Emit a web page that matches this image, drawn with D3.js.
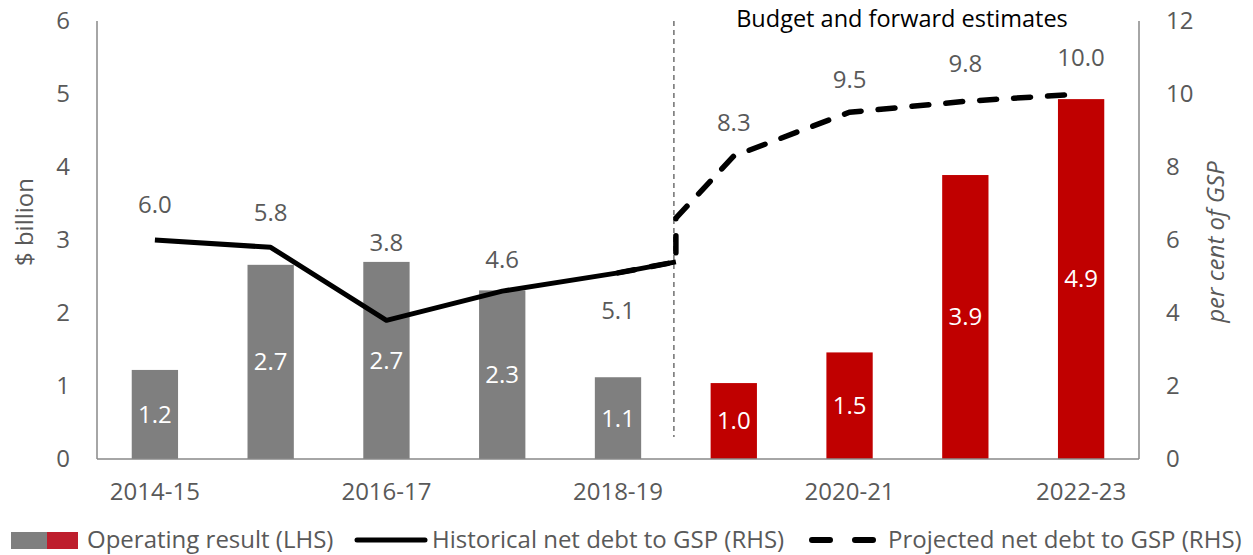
<!DOCTYPE html>
<html>
<head>
<meta charset="utf-8">
<script src="https://cdn.jsdelivr.net/npm/d3@7"></script>
<style>
  body { margin: 0; background: #fff; }
  svg text { font-family: "Open Sans", Lato, sans-serif; }
</style>
</head>
<body>
<div id="chart"></div>
<script>
// categories and values
var years = ["2014-15", "2015-16", "2016-17", "2017-18", "2018-19", "2019-20", "2020-21", "2021-22", "2022-23"];
var tickYears = ["2014-15", "2016-17", "2018-19", "2020-21", "2022-23"];
var operating = [1.22, 2.66, 2.70, 2.31, 1.12, 1.04, 1.46, 3.89, 4.93];
var budgetFlag = [0, 0, 0, 0, 0, 1, 1, 1, 1];   // 1 = budget / forward estimate
// net debt lines, x given as category index (4.5 = budget break)
var histIdx = [0, 1, 2, 3, 4, 4.5];
var histDebt = [6.0, 5.8, 3.8, 4.6, 5.1, 5.4];
var projIdx = [4, 4.5, 4.5, 5, 6, 7, 8];
var projDebt = [5.1, 5.4, 6.6, 8.3, 9.5, 9.8, 10.0];
var leftTicks = [0, 1, 2, 3, 4, 5, 6];
var rightTicks = [0, 2, 4, 6, 8, 10, 12];

function init(){
	var w = 1253, h = 555;
	var left = 97, right = 1139, top = 21, bottom = 459;
	var labelGrey = "#595959";
	var fs = 24;

	var svg = d3.select("#chart").append("svg")
		.attr("width", w)
		.attr("height", h);

	var xScale = d3.scaleBand()
		.domain(years)
		.range([left, right])
		.paddingInner(0.6)
		.paddingOuter(0.3);

	// numeric x for the lines (centre of band i)
	var xIdx = d3.scaleLinear()
		.domain([0, years.length - 1])
		.range([xScale(years[0]) + xScale.bandwidth() / 2,
		        xScale(years[years.length - 1]) + xScale.bandwidth() / 2]);

	var yLeft = d3.scaleLinear().domain([0, 6]).range([bottom, top]);
	var yRight = d3.scaleLinear().domain([0, 12]).range([bottom, top]);

	// bars
	svg.selectAll("rect.bar")
		.data(operating)
		.enter()
		.append("rect")
		.attr("class", "bar")
		.attr("x", function(d, i){ return xScale(years[i]); })
		.attr("y", function(d){ return yLeft(d); })
		.attr("width", xScale.bandwidth())
		.attr("height", function(d){ return yLeft(0) - yLeft(d); })
		.attr("fill", function(d, i){ return budgetFlag[i] ? "#c00000" : "#7f7f7f"; });

	// bar labels
	svg.selectAll("text.barlab")
		.data(operating)
		.enter()
		.append("text")
		.attr("class", "barlab")
		.text(function(d){ return d.toFixed(1); })
		.attr("x", function(d, i){ return xScale(years[i]) + xScale.bandwidth() / 2; })
		.attr("y", function(d){ return (yLeft(d) + yLeft(0)) / 2; })
		.attr("dy", "0.35em")
		.attr("text-anchor", "middle")
		.attr("font-size", fs)
		.attr("fill", "white");

	// axes lines
	var axisCol = "#888888";
	svg.append("line").attr("x1", left).attr("x2", left).attr("y1", top).attr("y2", bottom)
		.attr("stroke", axisCol).attr("stroke-width", 1.5);
	svg.append("line").attr("x1", right).attr("x2", right).attr("y1", top).attr("y2", bottom)
		.attr("stroke", axisCol).attr("stroke-width", 1.5);

	var xAxis = svg.append("g")
		.attr("transform", "translate(0," + bottom + ")")
		.call(d3.axisBottom(xScale).tickValues(tickYears).tickSize(0).tickPadding(24));
	xAxis.select(".domain").attr("stroke", axisCol).attr("stroke-width", 1.5)
		.attr("d", "M" + left + ",0H" + right);
	xAxis.selectAll("text").attr("font-size", fs).attr("fill", labelGrey)
		.style("font-family", "'Open Sans', sans-serif");

	var lAxis = svg.append("g")
		.attr("transform", "translate(" + left + ",0)")
		.call(d3.axisLeft(yLeft).tickValues(leftTicks).tickFormat(d3.format("d")).tickSize(0).tickPadding(27));
	lAxis.select(".domain").remove();
	lAxis.selectAll("text").attr("font-size", fs).attr("fill", labelGrey)
		.style("font-family", "'Open Sans', sans-serif");

	var rAxis = svg.append("g")
		.attr("transform", "translate(" + right + ",0)")
		.call(d3.axisRight(yRight).tickValues(rightTicks).tickFormat(d3.format("d")).tickSize(0).tickPadding(27));
	rAxis.select(".domain").remove();
	rAxis.selectAll("text").attr("font-size", fs).attr("fill", labelGrey)
		.style("font-family", "'Open Sans', sans-serif");

	// budget divider
	svg.append("line")
		.attr("x1", xIdx(4.5) - 2).attr("x2", xIdx(4.5) - 2)
		.attr("y1", top).attr("y2", 437)
		.attr("stroke", "#6f6f6f").attr("stroke-width", 1.5)
		.attr("stroke-dasharray", "5,4");

	svg.append("text")
		.text("Budget and forward estimates")
		.attr("x", 902).attr("y", 27)
		.attr("text-anchor", "middle")
		.attr("font-size", 23.5)
		.attr("fill", "#000");

	// lines
	var line = d3.line()
		.x(function(d){ return xIdx(d[0]); })
		.y(function(d){ return yRight(d[1]); });

	svg.append("path")
		.datum(d3.zip(projIdx, projDebt))
		.attr("d", line)
		.attr("fill", "none")
		.attr("stroke", "#000")
		.attr("stroke-width", 5.5)
		.attr("stroke-linecap", "round")
		.attr("stroke-dasharray", "17,17");

	svg.append("path")
		.datum(d3.zip(histIdx, histDebt))
		.attr("d", line)
		.attr("fill", "none")
		.attr("stroke", "#000")
		.attr("stroke-width", 5)
		.attr("stroke-linejoin", "round");

	// line labels (vertical offsets from the points)
	var histOffset = [-35, -35, -78, -32, 38];
	var projOffset = [-33, -33, -38, -36];
	var histPts = d3.zip(histIdx, histDebt).filter(function(d){ return d[0] % 1 === 0; });
	var projPts = d3.zip(projIdx, projDebt).filter(function(d){ return d[0] % 1 === 0 && d[0] > 4; });

	function addLabels(pts, offs){
		svg.selectAll(null)
			.data(pts)
			.enter()
			.append("text")
			.text(function(d){ return d[1].toFixed(1); })
			.attr("x", function(d){ return xIdx(d[0]); })
			.attr("y", function(d, i){ return yRight(d[1]) + offs[i]; })
			.attr("dy", "0.35em")
			.attr("text-anchor", "middle")
			.attr("font-size", fs)
			.attr("fill", labelGrey);
	}
	addLabels(histPts, histOffset);
	addLabels(projPts, projOffset);

	// axis titles
	svg.append("text")
		.text("$ billion")
		.attr("transform", "translate(33,222) rotate(-90)")
		.attr("text-anchor", "middle")
		.attr("font-size", fs)
		.attr("fill", labelGrey);

	svg.append("text")
		.text("per cent of GSP")
		.attr("transform", "translate(1224,242) rotate(-90)")
		.attr("text-anchor", "middle")
		.attr("font-size", fs)
		.attr("font-style", "italic")
		.attr("fill", labelGrey);

	// legend
	var ly = 540;
	var lg = svg.append("g");
	lg.append("rect").attr("x", 11).attr("y", ly - 8).attr("width", 36).attr("height", 17).attr("fill", "#7f7f7f");
	lg.append("rect").attr("x", 47).attr("y", ly - 8).attr("width", 31).attr("height", 17).attr("fill", "#be1e2d");
	lg.append("text").text("Operating result (LHS)").attr("x", 87).attr("y", ly).attr("dy", "0.35em")
		.attr("font-size", fs).attr("fill", labelGrey);

	lg.append("line").attr("x1", 357).attr("x2", 425).attr("y1", ly).attr("y2", ly)
		.attr("stroke", "#000").attr("stroke-width", 5).attr("stroke-linecap", "round");
	lg.append("text").text("Historical net debt to GSP (RHS)").attr("x", 432).attr("y", ly).attr("dy", "0.35em")
		.attr("font-size", fs).attr("fill", labelGrey);

	lg.append("line").attr("x1", 812).attr("x2", 873).attr("y1", ly).attr("y2", ly)
		.attr("stroke", "#000").attr("stroke-width", 6).attr("stroke-linecap", "round")
		.attr("stroke-dasharray", "18,25");
	lg.append("text").text("Projected net debt to GSP (RHS)").attr("x", 888).attr("y", ly).attr("dy", "0.35em")
		.attr("font-size", fs).attr("fill", labelGrey);
}

window.onload = init;
</script>
</body>
</html>
